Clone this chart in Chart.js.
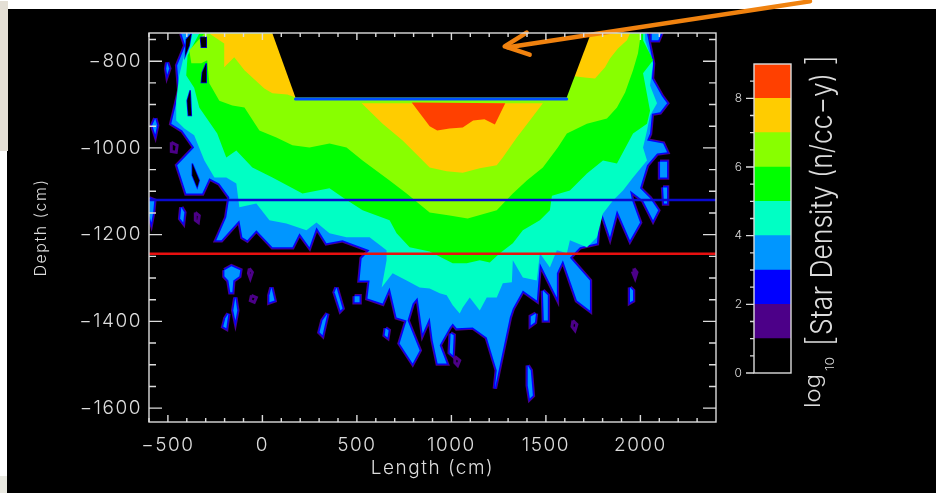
<!DOCTYPE html>
<html>
<head>
<meta charset="utf-8">
<title>Star density</title>
<style>
  html, body { margin: 0; padding: 0; background: #fff; overflow: hidden; }
  #page { position: relative; width: 936px; height: 493px; }
  #black { position: absolute; left: 7px; top: 9px; width: 929px; height: 484px; background: #000; }
  #stripTop { position: absolute; left: 0; top: 1px; width: 8px; height: 150px; background: #e4dfd5; }
  #stripBottom { position: absolute; left: 0; top: 476px; width: 7px; height: 17px; background: #e9e9e1; }
  canvas { position: absolute; left: 0; top: 0; filter: blur(0.45px); }
</style>
</head>
<body>
<div id="page">
  <div id="black"></div>
  <div id="stripTop"></div>
  <div id="stripBottom"></div>
  <canvas id="contourChart" width="936" height="493"></canvas>
  <canvas id="colorBar" width="936" height="493"></canvas>
</div>
<script src="https://cdn.jsdelivr.net/npm/chart.js@4"></script>
<script>
// axis ticks
const xTicks = [-500, 0, 500, 1000, 1500, 2000];
const xTickLabels = ['−500', '0', '500', '1000', '1500', '2000'];
const xMinorTicks = [-600, -400, -300, -200, -100, 100, 200, 300, 400, 600, 700, 800, 900, 1100, 1200, 1300, 1400, 1600, 1700, 1800, 1900, 2100, 2200, 2300];
const yTicks = [-800, -1000, -1200, -1400, -1600];
const yTickLabels = ['−800', '−1000', '−1200', '−1400', '−1600'];
const yMinorTicks = [-750, -850, -900, -950, -1050, -1100, -1150, -1250, -1300, -1350, -1450, -1500, -1550];

// colour bar
const barLevels = [1, 1, 1, 1, 1, 1, 1, 1, 1];
const barTicks = [0, 2, 4, 6, 8];
const barMinorTicks = [0.5, 1, 1.5, 2.5, 3, 3.5, 4.5, 5, 5.5, 6.5, 7, 7.5, 8.5];

// contour outlines, [length, depth] in cm
const band8 = [[790,-895],[850,-930],[885,-950],[925,-960],[990,-955],[1060,-953],[1115,-937],[1175,-934],[1230,-946],[1285,-897]];
const band7Centre = [[525,-897],[636,-944],[742,-983],[848,-1029],[885,-1045],[975,-1054],[1060,-1057],[1150,-1047],[1240,-1040],[1272,-1022],[1346,-976],[1415,-937],[1484,-897]];
const band7Left = [[-281,-736],[-202,-759],[-202,-814],[-149,-791],[-95,-821],[10,-863],[53,-874],[132,-877],[175,-884],[90,-736]];
const band7Right = [[1650,-835],[1717,-838],[1760,-840],[1813,-814],[1839,-794],[1881,-771],[1929,-752],[1945,-736],[1700,-736]];
const band6 = [[-307,-736],[-387,-775],[-376,-805],[-323,-805],[-292,-798],[-281,-851],[-228,-891],[-159,-902],[-95,-907],[-16,-960],[74,-976],[159,-994],[249,-999],[355,-990],[445,-999],[530,-1029],[673,-1075],[763,-1105],[885,-1149],[991,-1156],[1086,-1163],[1240,-1144],[1325,-1105],[1399,-1075],[1484,-1045],[1563,-999],[1611,-967],[1717,-944],[1823,-932],[1876,-907],[1919,-872],[1961,-821],[1987,-782],[2003,-736]];
const band5 = [[-334,-736],[-396,-787],[-403,-833],[-361,-861],[-334,-907],[-239,-967],[-191,-1022],[-138,-1006],[-53,-1045],[53,-1068],[212,-1105],[355,-1093],[424,-1114],[530,-1144],[673,-1167],[710,-1197],[779,-1229],[885,-1239],[1007,-1266],[1081,-1266],[1150,-1259],[1203,-1264],[1256,-1243],[1325,-1220],[1378,-1190],[1468,-1167],[1521,-1144],[1532,-1110],[1627,-1098],[1717,-1059],[1802,-1029],[1876,-1036],[1961,-967],[2035,-944],[2051,-914],[2014,-828],[2067,-798],[2014,-752],[2014,-736]];
const band4 = [[-387,-736],[-408,-775],[-440,-833],[-456,-891],[-456,-937],[-413,-955],[-361,-971],[-307,-1029],[-254,-1068],[-191,-1068],[-138,-1082],[-122,-1137],[-32,-1128],[37,-1167],[127,-1174],[233,-1190],[286,-1172],[355,-1197],[445,-1206],[567,-1206],[657,-1236],[657,-1259],[631,-1322],[689,-1289],[763,-1306],[832,-1322],[885,-1324],[938,-1335],[975,-1340],[1007,-1363],[1044,-1382],[1060,-1368],[1097,-1345],[1150,-1375],[1187,-1345],[1240,-1345],[1272,-1312],[1320,-1310],[1325,-1259],[1378,-1299],[1452,-1306],[1468,-1243],[1521,-1276],[1558,-1236],[1611,-1243],[1627,-1213],[1717,-1229],[1770,-1206],[1802,-1151],[1855,-1121],[1908,-1098],[1961,-1068],[2035,-1029],[2014,-999],[2035,-960],[2051,-925],[2088,-897],[2051,-856],[2067,-805],[2025,-752],[2025,-736]];
const band3 = [[-429,-736],[-408,-764],[-451,-810],[-440,-867],[-482,-944],[-424,-960],[-361,-999],[-451,-1040],[-403,-1105],[-318,-1105],[-281,-1070],[-228,-1082],[-175,-1114],[-191,-1160],[-244,-1213],[-217,-1213],[-122,-1167],[-106,-1206],[-80,-1213],[-32,-1190],[53,-1229],[159,-1229],[196,-1197],[249,-1229],[286,-1183],[339,-1220],[424,-1213],[567,-1236],[525,-1255],[514,-1306],[567,-1306],[556,-1347],[636,-1359],[673,-1322],[710,-1391],[763,-1398],[726,-1451],[795,-1497],[832,-1467],[768,-1398],[795,-1359],[821,-1345],[848,-1428],[885,-1391],[901,-1444],[927,-1497],[975,-1497],[938,-1455],[991,-1414],[1007,-1405],[1028,-1416],[1113,-1414],[1187,-1437],[1240,-1513],[1230,-1555],[1309,-1391],[1325,-1370],[1378,-1329],[1452,-1352],[1468,-1266],[1558,-1345],[1558,-1289],[1590,-1259],[1664,-1352],[1733,-1375],[1733,-1306],[1627,-1253],[1680,-1229],[1770,-1220],[1786,-1137],[1839,-1206],[1876,-1144],[1945,-1213],[1998,-1172],[1956,-1121],[1945,-1098],[2014,-1121],[2067,-1167],[2094,-1144],[2051,-1116],[1998,-1093],[2035,-1040],[2088,-1013],[2141,-1010],[2120,-990],[2035,-983],[2051,-967],[2061,-921],[2104,-918],[2141,-897],[2114,-881],[2061,-840],[2067,-805],[2035,-736]];

// detached patches of the 3-4 band
const patches3 = [
  [[-201,-1282],[-164,-1273],[-117,-1282],[-122,-1296],[-154,-1306],[-159,-1333],[-170,-1333],[-180,-1306],[-201,-1296]],
  [[-143,-1345],[-133,-1375],[-143,-1398],[-154,-1375]],
  [[-180,-1382],[-191,-1416],[-207,-1412],[-196,-1393]],
  [[48,-1322],[64,-1352],[37,-1356],[37,-1340]],
  [[344,-1382],[318,-1432],[302,-1425],[318,-1398]],
  [[392,-1322],[424,-1370],[413,-1375],[382,-1333]],
  [[488,-1342],[514,-1342],[514,-1356],[488,-1356]],
  [[652,-1416],[668,-1421],[662,-1437],[647,-1432]],
  [[996,-1428],[1012,-1432],[1007,-1478],[991,-1472]],
  [[1404,-1502],[1420,-1513],[1431,-1571],[1415,-1578],[1404,-1548]],
  [[1447,-1382],[1442,-1402],[1420,-1409],[1420,-1389]],
  [[1484,-1329],[1510,-1340],[1510,-1398],[1489,-1398]],
  [[1945,-1322],[1961,-1329],[1961,-1352],[1945,-1356]],
  [[2104,-1032],[2141,-1032],[2141,-1068],[2104,-1068]],
  [[2120,-1091],[2141,-1091],[2141,-1128],[2125,-1128]],
  [[-504,-803],[-493,-817],[-504,-831],[-509,-817]],
  [[-567,-932],[-557,-948],[-567,-969],[-583,-948]],
  [[-599,-1116],[-572,-1121],[-578,-1149],[-588,-1172],[-599,-1156]],
  [[-429,-1137],[-413,-1149],[-419,-1172],[-435,-1163]],
  [[2060,-736],[2110,-736],[2095,-752],[2060,-752]]
];
// small patches of the 1-2 band
const patches1 = [
  [[-69,-1278],[-53,-1287],[-64,-1301],[-74,-1289]],
  [[-58,-1340],[-32,-1345],[-43,-1356],[-64,-1352]],
  [[1643,-1398],[1664,-1407],[1654,-1421],[1638,-1412]],
  [[1966,-1278],[1982,-1287],[1972,-1301],[1961,-1289]],
  [[-482,-987],[-451,-994],[-456,-1010],[-482,-1008]],
  [[-355,-1149],[-334,-1156],[-339,-1172],[-355,-1167]],
  [[1018,-1481],[1044,-1490],[1033,-1502],[1018,-1495]]
];
// empty holes inside the bands
const holes = [
  [[-328,-745],[-297,-745],[-297,-768],[-323,-768]],
  [[-297,-805],[-297,-849],[-323,-849],[-318,-826]],
  [[-382,-867],[-376,-925],[-392,-925],[-398,-891]],
  [[-376,-736],[-387,-764],[-408,-787],[-403,-750]],
  [[-371,-1036],[-334,-1075],[-345,-1091],[-371,-1063]]
];

// tunnel cut-out and marker lines
const tunnel = [[48,-730],[175,-884],[1610,-884],[1743,-730]];
const tunnelFloor = [[175,-887],[1610,-887]];
const blueLine = [[-600,-1120],[2400,-1120]];
const redLine = [[-600,-1244],[2400,-1244]];
const arrowShaft = [[2897,-662],[1300,-768]];
const arrowHead = [[1398,-734],[1282,-766],[1414,-785]];

const colors = ['#000000', '#4c0088', '#0000ff', '#0096ff', '#00ffc4', '#00ff00', '#88ff00', '#ffcc00', '#ff4000'];
const axisColor = '#dcdcdc';
const thinFont = 'Inter';

function area(points, color) {
  return { data: points.concat([points[0]]), fill: 'shape', backgroundColor: color, borderWidth: 0, pointRadius: 0, showLine: true, tension: 0 };
}
function outline(points, color, width) {
  return { data: points.concat([points[0]]), fill: false, borderColor: color, borderWidth: width, pointRadius: 0, showLine: true, tension: 0 };
}
function stroke(points, color, width) {
  return { data: points, fill: false, borderColor: color, borderWidth: width, pointRadius: 0, showLine: true, tension: 0, borderCapStyle: 'round', borderJoinStyle: 'round' };
}
// fringe of the two lowest levels around a shape
function fringed(points, color) {
  return [outline(points, colors[1], 4.5), outline(points, colors[2], 2.6), area(points, color)];
}

const datasets = [
  ...fringed(band3, colors[3]),
  ...patches3.flatMap(p => fringed(p, colors[3])),
  ...patches1.map(p => outline(p, colors[1], 3)),
  area(band4, colors[4]),
  area(band5, colors[5]),
  area(band6, colors[6]),
  area(band7Left, colors[7]),
  area(band7Right, colors[7]),
  area(band7Centre, colors[7]),
  area(band8, colors[8]),
  ...holes.flatMap(p => [outline(p, colors[2], 1.5), area(p, colors[0])]),
  area(tunnel, colors[0]),
  stroke(tunnelFloor, '#0050ff', 3),
  stroke(blueLine, '#0a0ad0', 2.4),
  stroke(redLine, '#e81010', 2.4),
  { ...stroke(arrowShaft, '#f0820f', 4.5), clip: false },
  { ...stroke(arrowHead, '#f0820f', 4.5), clip: false }
];
// first dataset gets painted first
datasets.forEach((d, i) => { d.order = datasets.length - i; });

const contourFrame = {
  id: 'contourFrame',
  beforeDraw(chart) { chart.ctx.letterSpacing = '1.5px'; },
  afterDraw(chart) {
    const { ctx, chartArea: a, scales } = chart;
    ctx.save();
    ctx.strokeStyle = axisColor;
    ctx.lineWidth = 1.4;
    ctx.strokeRect(a.left, a.top, a.right - a.left, a.bottom - a.top);
    const xMark = (v, len) => {
      const px = scales.x.getPixelForValue(v);
      ctx.moveTo(px, a.bottom); ctx.lineTo(px, a.bottom - len);
      ctx.moveTo(px, a.top); ctx.lineTo(px, a.top + len);
    };
    const yMark = (v, len) => {
      const py = scales.y.getPixelForValue(v);
      ctx.moveTo(a.left, py); ctx.lineTo(a.left + len, py);
      ctx.moveTo(a.right, py); ctx.lineTo(a.right - len, py);
    };
    ctx.beginPath();
    xTicks.forEach(v => xMark(v, 7));
    xMinorTicks.forEach(v => xMark(v, 4));
    yTicks.forEach(v => yMark(v, 13));
    yMinorTicks.forEach(v => yMark(v, 7));
    ctx.stroke();
    ctx.restore();
  }
};

new Chart(document.getElementById('contourChart'), {
  type: 'scatter',
  data: { datasets },
  plugins: [contourFrame],
  options: {
    responsive: false,
    animation: false,
    events: [],
    layout: { padding: { top: 33, right: 220 } },
    plugins: { legend: { display: false }, tooltip: { enabled: false } },
    scales: {
      x: {
        type: 'linear', min: -600, max: 2400, bounds: 'data',
        grid: { display: false, drawTicks: false }, border: { display: false },
        afterBuildTicks: axis => { axis.ticks = xTicks.map(value => ({ value })); },
        afterFit: axis => { axis.height = 71; },
        ticks: {
          color: axisColor, font: { family: thinFont, size: 19, weight: 300 }, padding: 12, maxRotation: 0, autoSkip: false,
          callback: (v, i) => xTickLabels[i]
        },
        title: { display: true, text: 'Length (cm)', color: axisColor, font: { family: thinFont, size: 19, weight: 300 }, padding: { top: 0, bottom: 13 } }
      },
      y: {
        type: 'linear', min: -1632, max: -735, bounds: 'data',
        grid: { display: false, drawTicks: false }, border: { display: false },
        afterBuildTicks: axis => { axis.ticks = yTicks.map(value => ({ value })); },
        afterFit: axis => { axis.width = 149; },
        ticks: {
          color: axisColor, font: { family: thinFont, size: 19, weight: 300 }, padding: 7, autoSkip: false,
          callback: (v, i) => yTickLabels[i]
        },
        title: { display: true, text: 'Depth (cm)', color: axisColor, font: { family: thinFont, size: 16, weight: 300 }, padding: { top: 32, bottom: 0 } }
      }
    }
  }
});

const barFrame = {
  id: 'barFrame',
  afterDraw(chart) {
    const { ctx, chartArea: a, scales } = chart;
    ctx.save();
    ctx.strokeStyle = axisColor;
    ctx.lineWidth = 1.4;
    ctx.strokeRect(a.left, a.top, a.right - a.left, a.bottom - a.top);
    ctx.beginPath();
    barTicks.forEach(v => {
      const py = scales.y.getPixelForValue(v);
      ctx.moveTo(a.left, py); ctx.lineTo(a.left - 8, py);
    });
    barMinorTicks.forEach(v => {
      const py = scales.y.getPixelForValue(v);
      ctx.moveTo(a.left, py); ctx.lineTo(a.left - 4, py);
    });
    ctx.stroke();

    // rotated title with subscript and tall brackets
    const put = (text, font, x, y, fit) => {
      ctx.save();
      ctx.font = font;
      ctx.fillStyle = axisColor;
      ctx.translate(x, y);
      ctx.rotate(-Math.PI / 2);
      if (fit) ctx.scale(fit / ctx.measureText(text).width, 1);
      ctx.fillText(text, 0, 0);
      ctx.restore();
    };
    put('log', '300 22px ' + thinFont, 820, 408, 34);
    put('10', '300 12px ' + thinFont, 834, 371, 14);
    put('[', '200 36px ' + thinFont, 832, 347, 0);
    put('Star Density (n/cc−y)', '300 30px ' + thinFont, 832, 335, 262);
    put(']', '200 36px ' + thinFont, 832, 66, 0);
    ctx.restore();
  }
};

new Chart(document.getElementById('colorBar'), {
  type: 'bar',
  data: {
    labels: [''],
    datasets: barLevels.map((v, i) => ({ data: [v], backgroundColor: colors[i], barPercentage: 1, categoryPercentage: 1, borderWidth: 0 }))
  },
  plugins: [barFrame],
  options: {
    responsive: false,
    animation: false,
    events: [],
    layout: { padding: { top: 64, right: 145, bottom: 120 } },
    plugins: { legend: { display: false }, tooltip: { enabled: false } },
    scales: {
      x: { stacked: true, display: false },
      y: {
        stacked: true, min: 0, max: 9,
        grid: { display: false, drawTicks: false }, border: { display: false },
        afterBuildTicks: axis => { axis.ticks = barTicks.map(value => ({ value })); },
        afterFit: axis => { axis.width = 754; },
        ticks: { color: axisColor, font: { family: thinFont, size: 12, weight: 300 }, padding: 12, autoSkip: false }
      }
    }
  }
});
</script>
</body>
</html>
